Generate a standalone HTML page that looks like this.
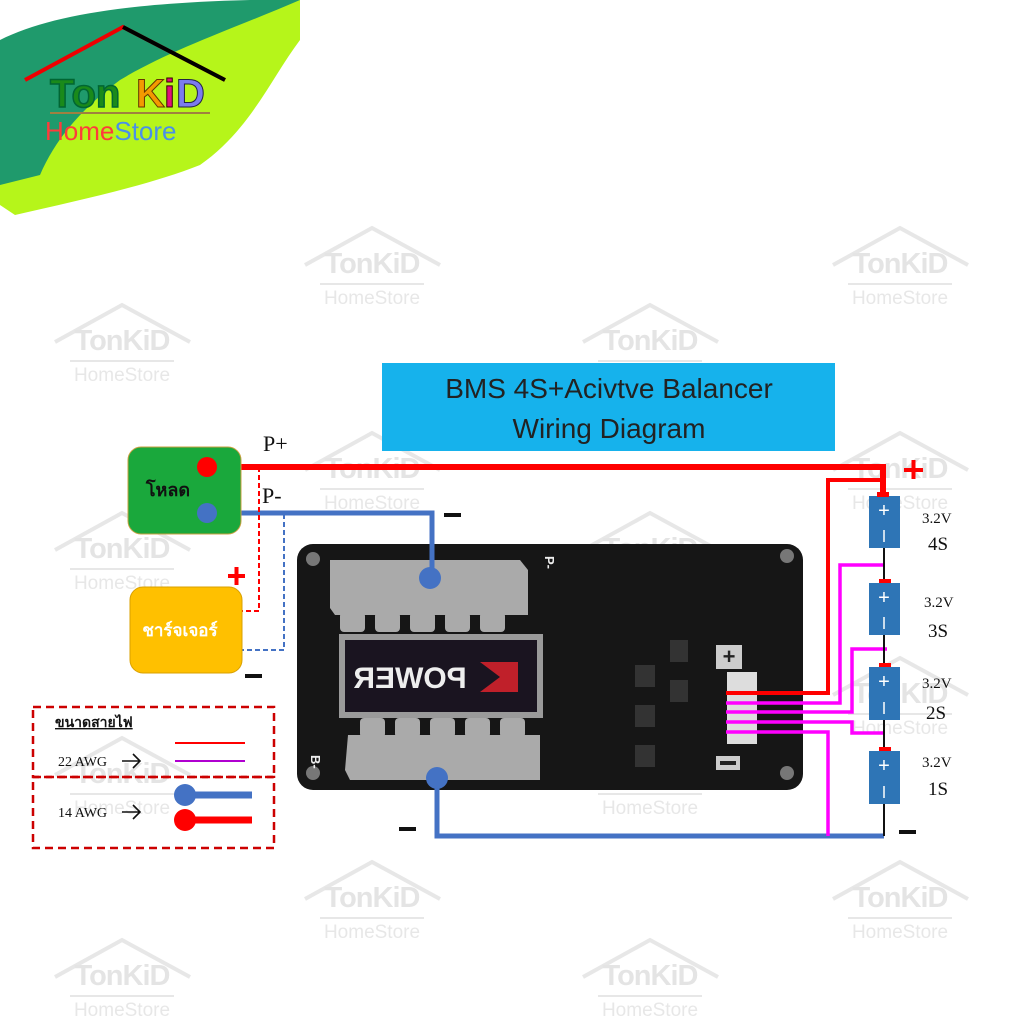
<!DOCTYPE html>
<html><head><meta charset="utf-8"><style>
body{margin:0;background:#fff}
svg{display:block}
text{font-family:"Liberation Sans",sans-serif}
.th,.th text{font-family:"Liberation Serif","Noto Serif CJK SC",serif}
</style></head><body>
<svg width="1024" height="1024" viewBox="0 0 1024 1024" xmlns="http://www.w3.org/2000/svg">
<defs>
<g id="wm" opacity="0.33">
<polyline points="-67,37 0,0 68,37" fill="none" stroke="#b8b8b8" stroke-width="4"/>
<text x="0" y="45" text-anchor="middle" font-size="29" font-weight="bold" fill="#b0b0b0" letter-spacing="-1">TonKiD</text>
<line x1="-52" y1="56" x2="52" y2="56" stroke="#b8b8b8" stroke-width="2"/>
<text x="0" y="76" text-anchor="middle" font-size="19" fill="#b8b8b8">HomeStore</text>
</g>
</defs>
<!-- logo background -->
<path d="M0,45 C60,15 150,2 280,0 L300,0 L300,40 C270,80 250,130 200,165 C150,185 80,200 15,215 L0,205 Z" fill="#b6f51a"/>
<path d="M0,40 C50,15 130,3 250,0 L300,0 C230,30 170,50 120,80 C80,110 55,140 40,175 L0,185 Z" fill="#1f9a6c"/>
<polyline points="25,80 123,27 225,80" fill="none" stroke="#e00" stroke-width="4"/>
<line x1="123" y1="27" x2="225" y2="80" stroke="#000" stroke-width="4"/>
<text x="50" y="107" font-size="40" font-weight="bold" fill="#1a8a1a" stroke="#063" stroke-width="1.5">Ton</text>
<text x="136" y="107" font-size="40" font-weight="bold" fill="#f39a00" stroke="#630" stroke-width="1">K</text>
<text x="164" y="107" font-size="40" font-weight="bold" fill="#e0107a" stroke="#300" stroke-width="1">i</text>
<text x="176" y="107" font-size="40" font-weight="bold" fill="#7b7bee" stroke="#224" stroke-width="1">D</text>
<line x1="50" y1="113" x2="210" y2="113" stroke="#a08040" stroke-width="2"/>
<text x="45" y="140" font-size="26" fill="#ff3b3b">Home<tspan fill="#4a90e8">Store</tspan></text>
<!-- watermarks -->
<use href="#wm" x="372" y="228"/><use href="#wm" x="900" y="228"/>
<use href="#wm" x="122" y="305"/><use href="#wm" x="650" y="305"/>
<use href="#wm" x="372" y="433"/><use href="#wm" x="900" y="433"/>
<use href="#wm" x="122" y="513"/><use href="#wm" x="650" y="513"/>
<use href="#wm" x="900" y="658"/>
<use href="#wm" x="122" y="738"/><use href="#wm" x="650" y="738"/>
<use href="#wm" x="372" y="862"/><use href="#wm" x="900" y="862"/>
<use href="#wm" x="122" y="940"/><use href="#wm" x="650" y="940"/>
<!-- title -->
<rect x="382" y="363" width="453" height="88" fill="#16b2ec"/>
<text x="609" y="398" text-anchor="middle" font-size="28" fill="#222">BMS 4S+Acivtve Balancer</text>
<text x="609" y="438" text-anchor="middle" font-size="28" fill="#222">Wiring Diagram</text>
<!-- PCB -->
<rect x="297" y="544" width="506" height="246" rx="16" fill="#161616"/>
<circle cx="313" cy="559" r="7" fill="#777"/><circle cx="313" cy="773" r="7" fill="#777"/>
<circle cx="787" cy="556" r="7" fill="#777"/><circle cx="787" cy="773" r="7" fill="#777"/>
<path d="M330,560 L520,560 L528,570 L528,615 L335,615 L330,608Z" fill="#aaa"/>
<g fill="#aaa"><rect x="340" y="612" width="25" height="20" rx="4"/><rect x="375" y="612" width="25" height="20" rx="4"/><rect x="410" y="612" width="25" height="20" rx="4"/><rect x="445" y="612" width="25" height="20" rx="4"/><rect x="480" y="612" width="25" height="20" rx="4"/>
<rect x="360" y="718" width="25" height="20" rx="4"/><rect x="395" y="718" width="25" height="20" rx="4"/><rect x="430" y="718" width="25" height="20" rx="4"/><rect x="465" y="718" width="25" height="20" rx="4"/><rect x="500" y="718" width="25" height="20" rx="4"/></g>
<path d="M348,735 L540,735 L540,780 L350,780 L345,770Z" fill="#aaa"/>
<rect x="339" y="634" width="204" height="84" fill="#9a9a9a"/>
<rect x="345" y="640" width="192" height="72" fill="#1a1420"/>
<text x="410" y="688" text-anchor="middle" font-size="30" font-weight="bold" fill="#eee" transform="translate(820,0) scale(-1,1)">POWER</text>
<path d="M480,662 L518,662 L518,692 L480,692 L500,677Z" fill="#c0202a"/>
<text x="555" y="566" font-size="13" fill="#eee" font-weight="bold" transform="rotate(90 555 556)">P-</text>
<text x="325" y="755" font-size="13" fill="#eee" font-weight="bold" transform="rotate(90 318 748)">B-</text>
<rect x="716" y="645" width="26" height="24" fill="#ccc"/><text x="729" y="664" text-anchor="middle" font-size="22" fill="#222" font-weight="bold">+</text>
<rect x="716" y="756" width="24" height="14" fill="#ccc"/><rect x="720" y="761" width="16" height="4" fill="#222"/>
<rect x="727" y="672" width="30" height="72" fill="#ddd"/>
<g fill="#333"><rect x="635" y="665" width="20" height="22"/><rect x="635" y="705" width="20" height="22"/><rect x="635" y="745" width="20" height="22"/><rect x="670" y="640" width="18" height="22"/><rect x="670" y="680" width="18" height="22"/></g>
<!-- wires -->
<polyline points="207,467 883,467 883,497" fill="none" stroke="#f00" stroke-width="6"/>
<polyline points="726,693 828,693 828,480 882,480" fill="none" stroke="#f00" stroke-width="4"/>
<polyline points="207,513 432,513 432,578" fill="none" stroke="#4472c4" stroke-width="5"/>
<polyline points="437,778 437,836 884,836" fill="none" stroke="#4472c4" stroke-width="5"/>
<g fill="none" stroke="#f0f" stroke-width="3.5">
<polyline points="726,703 840,703 840,565 884,565"/>
<polyline points="726,712 852,712 852,649 887,649"/>
<polyline points="726,722 852,722 852,733 884,733"/>
<polyline points="726,732 828,732 828,836"/>
</g>
<polyline points="259,467 259,611 233,611" fill="none" stroke="#f00" stroke-width="2" stroke-dasharray="5,3"/>
<polyline points="284,514 284,650 235,650" fill="none" stroke="#4472c4" stroke-width="2" stroke-dasharray="5,3"/>
<!-- load & charger -->
<rect x="128" y="447" width="113" height="87" rx="13" fill="#1aa83c" stroke="#c8a040" stroke-width="1"/>
<text x="168" y="496" text-anchor="middle" class="th" font-size="18" font-weight="bold" fill="#111">โหลด</text>
<circle cx="207" cy="467" r="10" fill="#f00"/><circle cx="207" cy="513" r="10" fill="#4472c4"/>
<circle cx="430" cy="578" r="11" fill="#4472c4"/><circle cx="437" cy="778" r="11" fill="#4472c4"/>
<rect x="130" y="587" width="112" height="86" rx="13" fill="#ffc000" stroke="#d9a000"/>
<text x="180" y="636" text-anchor="middle" class="th" font-size="17" font-weight="bold" fill="#fff">ชาร์จเจอร์</text>
<text x="263" y="451" class="th" font-size="22" fill="#111">P+</text>
<text x="262" y="503" class="th" font-size="22" fill="#111">P-</text>
<g fill="#f00"><rect x="228" y="574" width="17" height="4"/><rect x="234.5" y="567" width="4" height="18"/>
<rect x="904" y="468" width="19" height="4"/><rect x="911.5" y="460" width="4" height="19"/></g>
<g fill="#111"><rect x="245" y="674" width="17" height="4"/><rect x="444" y="513" width="17" height="4"/>
<rect x="399" y="827" width="17" height="4"/><rect x="899" y="830" width="17" height="4"/></g>
<!-- batteries -->
<line x1="884" y1="497" x2="884" y2="836" stroke="#111" stroke-width="2"/>
<g>
<rect x="869" y="496" width="31" height="52" fill="#2e75b6"/>
<rect x="879" y="579" width="12" height="5" fill="#f00"/><rect x="869" y="583" width="31" height="52" fill="#2e75b6"/>
<rect x="879" y="663" width="12" height="5" fill="#f00"/><rect x="869" y="667" width="31" height="53" fill="#2e75b6"/>
<rect x="879" y="747" width="12" height="5" fill="#f00"/><rect x="869" y="751" width="31" height="53" fill="#2e75b6"/>
<rect x="877" y="492" width="12" height="5" fill="#f00"/>
</g>
<g fill="#fff" font-size="20" text-anchor="middle">
<text x="884" y="517">+</text><text x="884" y="604">+</text><text x="884" y="688">+</text><text x="884" y="772">+</text></g>
<g stroke="#fff" stroke-width="1.5"><line x1="884" y1="530" x2="884" y2="542"/><line x1="884" y1="617" x2="884" y2="629"/><line x1="884" y1="702" x2="884" y2="714"/><line x1="884" y1="786" x2="884" y2="798"/></g>
<g class="th" fill="#111">
<text x="922" y="523" font-size="15">3.2V</text><text x="928" y="550" font-size="19">4S</text>
<text x="924" y="607" font-size="15">3.2V</text><text x="928" y="637" font-size="19">3S</text>
<text x="922" y="688" font-size="15">3.2V</text><text x="926" y="719" font-size="19">2S</text>
<text x="922" y="767" font-size="15">3.2V</text><text x="928" y="795" font-size="19">1S</text>
</g>
<!-- legend -->
<rect x="33" y="707" width="241" height="70" fill="none" stroke="#c00" stroke-width="2.5" stroke-dasharray="8,5"/>
<rect x="33" y="777" width="241" height="71" fill="none" stroke="#c00" stroke-width="2.5" stroke-dasharray="8,5"/>
<text x="55" y="727" class="th" font-size="14" font-weight="bold" fill="#111" text-decoration="underline">ขนาดสายไฟ</text>
<text x="58" y="766" class="th" font-size="14" fill="#111">22 AWG</text>
<text x="58" y="817" class="th" font-size="14" fill="#111">14 AWG</text>
<g stroke="#111" stroke-width="1.6" fill="none">
<path d="M122,761 L140,761 M133,754 L140,761 L133,768"/>
<path d="M122,812 L140,812 M133,805 L140,812 L133,819"/></g>
<line x1="175" y1="743" x2="245" y2="743" stroke="#f00" stroke-width="2"/>
<line x1="175" y1="761" x2="245" y2="761" stroke="#b000d0" stroke-width="2"/>
<line x1="185" y1="795" x2="252" y2="795" stroke="#4472c4" stroke-width="7"/><circle cx="185" cy="795" r="11" fill="#4472c4"/>
<line x1="185" y1="820" x2="252" y2="820" stroke="#f00" stroke-width="7"/><circle cx="185" cy="820" r="11" fill="#f00"/>
</svg>
</body></html>
